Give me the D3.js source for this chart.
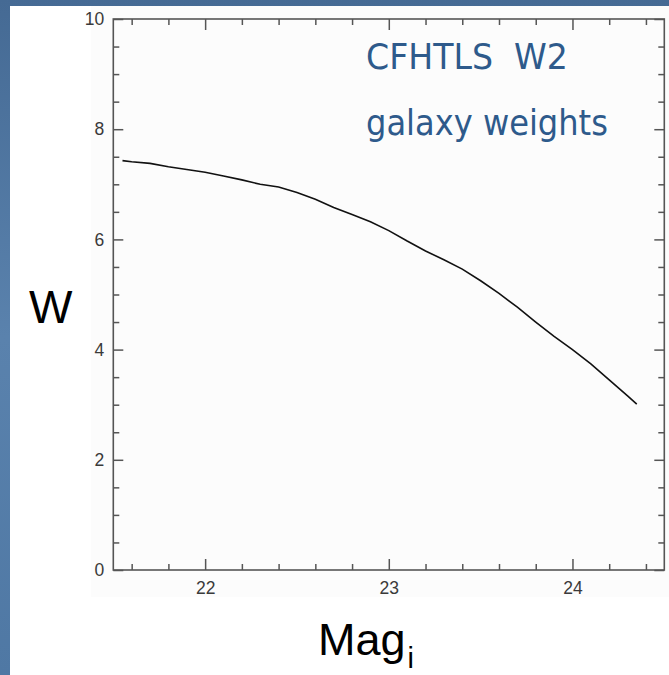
<!DOCTYPE html>
<html>
<head>
<meta charset="utf-8">
<script src="https://cdn.jsdelivr.net/npm/d3@7"></script>
<style>
  html, body { margin: 0; padding: 0; background: #4f77a2; }
  svg { display: block; }
</style>
</head>
<body>
<svg id="chart" width="669" height="675"></svg>
<script>
// Galaxy weight W as a function of i-band magnitude (CFHTLS W2)
const magI = [21.55, 21.6, 21.7, 21.8, 21.9, 22.0, 22.1, 22.2, 22.3, 22.4,
              22.5, 22.6, 22.7, 22.8, 22.9, 23.0, 23.1, 23.2, 23.3, 23.4,
              23.5, 23.6, 23.7, 23.8, 23.9, 24.0, 24.1, 24.2, 24.3, 24.35];
const weight = [7.43, 7.41, 7.38, 7.32, 7.27, 7.22, 7.15, 7.08, 7.00, 6.95,
                6.85, 6.73, 6.58, 6.45, 6.32, 6.16, 5.97, 5.79, 5.63, 5.46,
                5.25, 5.02, 4.77, 4.50, 4.24, 4.00, 3.74, 3.45, 3.16, 3.01];

const xMajorTicks = [22, 23, 24];
const xMinorTicks = [21.6, 21.8, 22.2, 22.4, 22.6, 22.8, 23.2, 23.4, 23.6, 23.8, 24.2, 24.4];
const yMajorTicks = [0, 2, 4, 6, 8, 10];
const yMinorTicks = [0.5, 1, 1.5, 2.5, 3, 3.5, 4.5, 5, 5.5, 6.5, 7, 7.5, 8.5, 9, 9.5];

const titleLines = ["CFHTLS  W2", "galaxy weights"];
const yLabel = "W";
const xLabel = "Mag";
const xLabelSub = "i";

const svg = d3.select("#chart");
const W = 669, H = 675;

// slide background and white panel
const defs = svg.append("defs");
const grad = defs.append("linearGradient").attr("id", "bg").attr("x1", 0).attr("y1", 0).attr("x2", 0).attr("y2", 1);
grad.append("stop").attr("offset", 0).attr("stop-color", "#456a94");
grad.append("stop").attr("offset", 0.5).attr("stop-color", "#5a82ad");
grad.append("stop").attr("offset", 1).attr("stop-color", "#4f78a4");
svg.append("rect").attr("width", W).attr("height", H).attr("fill", "url(#bg)");
svg.append("rect").attr("x", 10).attr("y", 6).attr("width", W - 10).attr("height", H - 6).attr("fill", "#ffffff");
svg.append("rect").attr("x", 91).attr("y", 6).attr("width", W - 91).attr("height", 591).attr("fill", "#fcfcfc");

const plot = { left: 113.3, right: 664.3, top: 19, bottom: 570 };

const x = d3.scaleLinear().domain([21.5, 24.5]).range([plot.left, plot.right]);
const y = d3.scaleLinear().domain([0, 10]).range([plot.bottom, plot.top]);

const axisColor = "#555555";
const labelFont = "Liberation Sans, Arial, sans-serif";

function styleAxis(g) {
  g.select(".domain").remove();
  g.selectAll(".tick line").attr("stroke", axisColor).attr("stroke-width", 1.5);
  g.selectAll(".tick text")
    .attr("fill", "#3a3a3a")
    .attr("font-family", labelFont)
    .attr("font-size", 17.5);
}

// bottom axis: labelled major ticks plus minor ticks, all pointing inward
svg.append("g").attr("transform", `translate(0,${plot.bottom})`)
  .call(d3.axisBottom(x).tickValues(xMajorTicks).tickSize(-11).tickSizeOuter(0).tickPadding(12).tickFormat(d3.format("d")))
  .call(styleAxis);
svg.append("g").attr("transform", `translate(0,${plot.bottom})`)
  .call(d3.axisBottom(x).tickValues(xMinorTicks).tickSize(-6).tickSizeOuter(0).tickFormat(""))
  .call(styleAxis);

// top axis (mirrored ticks only)
svg.append("g").attr("transform", `translate(0,${plot.top})`)
  .call(d3.axisTop(x).tickValues(xMajorTicks).tickSize(-11).tickSizeOuter(0).tickFormat(""))
  .call(styleAxis);
svg.append("g").attr("transform", `translate(0,${plot.top})`)
  .call(d3.axisTop(x).tickValues(xMinorTicks).tickSize(-6).tickSizeOuter(0).tickFormat(""))
  .call(styleAxis);

// left axis
svg.append("g").attr("transform", `translate(${plot.left},0)`)
  .call(d3.axisLeft(y).tickValues(yMajorTicks).tickSize(-10).tickSizeOuter(0).tickPadding(9).tickFormat(d3.format("d")))
  .call(styleAxis);
svg.append("g").attr("transform", `translate(${plot.left},0)`)
  .call(d3.axisLeft(y).tickValues(yMinorTicks).tickSize(-6).tickSizeOuter(0).tickFormat(""))
  .call(styleAxis);

// right axis (mirrored ticks only)
svg.append("g").attr("transform", `translate(${plot.right},0)`)
  .call(d3.axisRight(y).tickValues(yMajorTicks).tickSize(-10).tickSizeOuter(0).tickFormat(""))
  .call(styleAxis);
svg.append("g").attr("transform", `translate(${plot.right},0)`)
  .call(d3.axisRight(y).tickValues(yMinorTicks).tickSize(-6).tickSizeOuter(0).tickFormat(""))
  .call(styleAxis);

// frame
svg.append("rect")
  .attr("x", plot.left).attr("y", plot.top)
  .attr("width", plot.right - plot.left).attr("height", plot.bottom - plot.top)
  .attr("fill", "none").attr("stroke", axisColor).attr("stroke-width", 1.6);

// weight curve
const line = d3.line().x((d, i) => x(magI[i])).y(d => y(d)).curve(d3.curveLinear);
svg.append("path")
  .datum(weight)
  .attr("d", line)
  .attr("fill", "none")
  .attr("stroke", "#111111")
  .attr("stroke-width", 1.6);

// annotation in the upper right, narrowed horizontally to a humanist width
const titleColor = "#2e5a8b";
const titleFont = "DejaVu Sans, Verdana, sans-serif";
const titleTargets = [{ y: 69, w: 202 }, { y: 135, w: 242 }];
titleLines.forEach((t, i) => {
  const el = svg.append("text")
    .attr("x", 0).attr("y", 0)
    .attr("fill", titleColor)
    .attr("font-family", titleFont)
    .attr("font-size", 36)
    .style("white-space", "pre")
    .text(t);
  const len = el.node().getComputedTextLength();
  const k = titleTargets[i].w / len;
  el.attr("transform", `translate(366,${titleTargets[i].y}) scale(${k},1)`);
});

// axis titles
svg.append("text")
  .attr("x", 29).attr("y", 323)
  .attr("font-family", labelFont)
  .attr("font-size", 46)
  .attr("fill", "#000")
  .text(yLabel);

const xl = svg.append("text")
  .attr("x", 318).attr("y", 655)
  .attr("font-family", labelFont)
  .attr("font-size", 45)
  .attr("fill", "#000");
xl.append("tspan").text(xLabel);
xl.append("tspan").attr("font-size", 29).attr("dx", 2).attr("dy", 13).text(xLabelSub);
</script>
</body>
</html>
